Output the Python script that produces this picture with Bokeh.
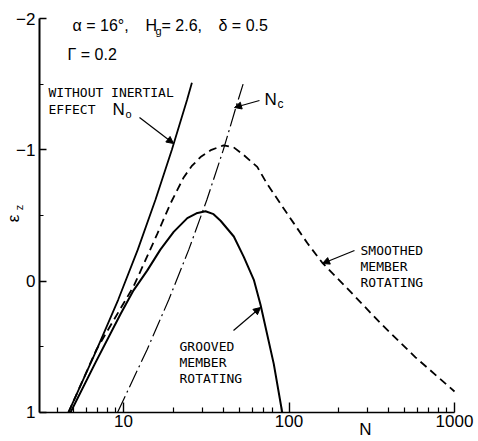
import math
from bokeh.plotting import figure
from bokeh.models import Range1d, FixedTicker, Label, Arrow, NormalHead, BasicTickFormatter
from bokeh.embed import file_html
from bokeh.resources import INLINE

# ---------------- data ----------------
# Without inertial effect, N0 (solid)
n0_N = [4.65, 6.9, 9.3, 12.2, 15.6, 19.6, 24.2, 25.9]
n0_eps = [1.0, 0.52, 0.14, -0.24, -0.62, -1.0, -1.38, -1.51]

# Nc (dash-dot)
nc_N = [9.2, 13.9, 18.8, 24.8, 31.9, 40.1, 49.3, 52.8]
nc_eps = [1.0, 0.52, 0.14, -0.24, -0.62, -1.0, -1.38, -1.5]

# Smoothed member rotating (dashed)
sm_N = [4.65, 6.87, 10.0, 11.5, 13.3, 16.0, 19.2, 23.1, 25.8, 29.2, 34.0, 40.2, 46.2,
        53.3, 64.3, 73.8, 88.8, 107, 129, 159, 235, 357, 581, 1000]
sm_eps = [1.0, 0.52, 0.17, 0.04, -0.135, -0.36, -0.59, -0.79, -0.875, -0.945, -1.0,
          -1.034, -1.02, -0.96, -0.87, -0.74, -0.59, -0.44, -0.29, -0.14, 0.08, 0.32,
          0.58, 0.84]

# Grooved member rotating (solid)
gr_N = [4.78, 6.77, 9.6, 11.5, 13.9, 16.7, 20.1, 24.3, 27.6, 31.3, 35.0, 38.6, 46.4,
        53.3, 61.3, 67.3, 80.9, 91.0]
gr_eps = [1.0, 0.62, 0.25, 0.07, -0.08, -0.24, -0.375, -0.48, -0.517, -0.532, -0.51,
          -0.46, -0.34, -0.185, -0.01, 0.18, 0.63, 1.0]

x_major = [10, 100, 1000]
x_minor = [4, 5, 6, 7, 8, 9, 20, 30, 40, 50, 60, 70, 80, 90,
           200, 300, 400, 500, 600, 700, 800, 900]
y_major = [-2, -1, 0, 1]
y_minor = [-1.5, -0.5, 0.5]
y_labels = {-2: "\u22122", -1: "\u22121", 0: "0", 1: "1"}

X_START, X_END = 10 ** 0.4924, 1000
Y_TOP, Y_BOTTOM = -2, 1

# ---------------- layout helpers (page pixel -> data) ----------------
W, H = 478, 441
def px2x(px):
    return 10 ** (1 + (px - 123) / 165.5)

def py2y(py):
    return -2 + (py - 18) / 131.33

# frame covers the whole canvas; axes drawn at fixed data locations
p = figure(width=W, height=H, x_axis_type="log",
           x_range=Range1d(px2x(0), px2x(W)), y_range=Range1d(py2y(H), py2y(0)),
           output_backend="svg", toolbar_location=None, min_border=0)
p.outline_line_color = None
p.grid.visible = False
p.background_fill_color = "white"

NUMFONT = "Liberation Sans"
MONO = "DejaVu Sans Mono"

xa = p.xaxis[0]
xa.fixed_location = Y_BOTTOM
xa.bounds = (X_START, X_END)
xa.ticker = FixedTicker(ticks=x_major, minor_ticks=x_minor)
xa.formatter = BasicTickFormatter(use_scientific=False)
xa.major_tick_in = 10
xa.major_tick_out = 0
xa.minor_tick_in = 5
xa.minor_tick_out = 0
xa.axis_line_width = 1.6
xa.major_tick_line_width = 1.4
xa.minor_tick_line_width = 1.2
xa.major_label_text_font = NUMFONT
xa.major_label_text_font_size = "17px"
xa.major_label_standoff = 3
xa.major_label_text_color = "black"

ya = p.yaxis[0]
ya.fixed_location = X_START
ya.bounds = (Y_TOP, Y_BOTTOM)
ya.ticker = FixedTicker(ticks=y_major, minor_ticks=y_minor)
ya.major_label_overrides = y_labels
ya.major_tick_in = 7
ya.major_tick_out = 0
ya.minor_tick_in = 4
ya.minor_tick_out = 0
ya.axis_line_width = 2
ya.major_tick_line_width = 1.4
ya.minor_tick_line_width = 1.2
ya.major_label_text_font = NUMFONT
ya.major_label_text_font_size = "17px"
ya.major_label_standoff = 4
ya.major_label_text_color = "black"

# ---------------- curves ----------------
p.line(n0_N, n0_eps, line_color="black", line_width=1.8)
p.line(gr_N, gr_eps, line_color="black", line_width=2)
p.line(sm_N, sm_eps, line_color="black", line_width=1.8, line_dash="8 5")
p.line(nc_N, nc_eps, line_color="black", line_width=1.2, line_dash="18 4 2 4")

# ---------------- annotations (placed by page pixel) ----------------
def lab(px, py, text, size="16px", font=NUMFONT, align="left", angle=0):
    p.add_layout(Label(x=px2x(px), y=py2y(py), text=text, text_font=font,
                       text_font_size=size, text_align=align, text_baseline="middle",
                       angle=angle, text_color="black"))

def arrow(px0, py0, px1, py1):
    p.add_layout(Arrow(x_start=px2x(px0), y_start=py2y(py0),
                       x_end=px2x(px1), y_end=py2y(py1),
                       line_color="black", line_width=1.2,
                       end=NormalHead(size=7, fill_color="black", line_color="black")))

# parameters
lab(72, 25, "\u03b1 = 16\u00b0,", "16px")
lab(145, 25, "H", "16px")
lab(155, 30, "g", "11px")
lab(161, 25, "= 2.6,", "16px")
lab(218, 25, "\u03b4 = 0.5", "16px")
lab(67, 54, "\u0393 = 0.2", "16px")

# without inertial effect
lab(48, 92, "WITHOUT INERTIAL", "13px", MONO)
lab(48, 109, "EFFECT", "13px", MONO)
lab(112, 109, "N", "17px")
lab(125, 113, "o", "11px")
arrow(139, 117, 173, 143)

# Nc
lab(264, 99, "N", "17px")
lab(277, 103, "c", "12px")
arrow(259, 100, 234, 107)

# smoothed
lab(360, 250, "SMOOTHED", "13px", MONO)
lab(360, 266, "MEMBER", "13px", MONO)
lab(360, 282, "ROTATING", "13px", MONO)
arrow(354, 250, 322, 263)

# grooved
lab(179, 346, "GROOVED", "13px", MONO)
lab(179, 362, "MEMBER", "13px", MONO)
lab(179, 378, "ROTATING", "13px", MONO)
arrow(233, 330, 260, 307)

# axis titles
lab(365, 429, "N", "17px", align="center")
lab(13, 218, "\u03b5", "17px", align="center", angle=math.pi / 2)
lab(18, 207, "z", "11px", align="center", angle=math.pi / 2)

open("out.html", "w").write(file_html(p, INLINE))
